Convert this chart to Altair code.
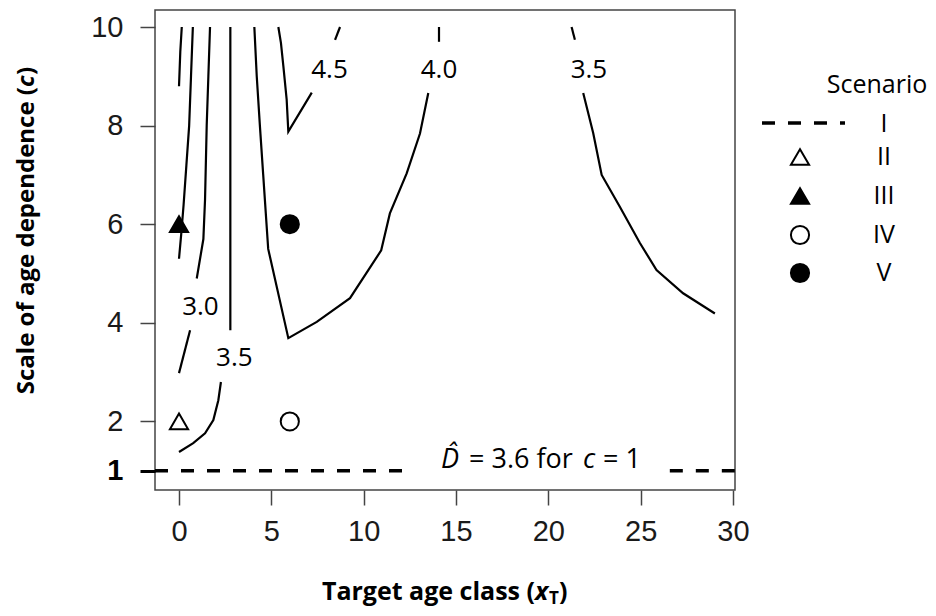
import altair as alt
import pandas as pd

# ---------------- data ----------------
x_ticks = [0, 5, 10, 15, 20, 25, 30]
y_ticks = [1, 2, 4, 6, 8, 10]

# contour pieces (x = target age class, y = scale of age dependence c)
c20_x = [0.15, 0.07, 0.0]
c20_y = [10.0, 9.5, 8.8]
c25_x = [0.75, 0.65, 0.55, 0.40, 0.25, 0.12, 0.0]
c25_y = [10.0, 9.0, 8.0, 7.2, 6.4, 5.8, 5.3]
c30_upper_x = [1.68, 1.59, 1.50, 1.41, 1.32, 0.96]
c30_upper_y = [10.0, 9.0, 8.0, 6.5, 5.7, 4.9]
c30_lower_x = [0.60, 0.0]
c30_lower_y = [3.85, 2.98]
c35_left_upper_x = [2.78, 2.78]
c35_left_upper_y = [10.0, 3.85]
c35_left_lower_x = [2.27, 2.13, 1.86, 1.41, 0.77, 0.0]
c35_left_lower_y = [2.80, 2.43, 2.03, 1.76, 1.56, 1.38]
c40_main_x = [4.08, 4.21, 4.38, 4.56, 4.65, 4.83, 5.92, 7.46, 9.26, 10.95, 11.42, 12.33, 13.05, 13.50]
c40_main_y = [10.0, 9.0, 8.0, 7.0, 6.5, 5.5, 3.69, 4.02, 4.50, 5.47, 6.22, 7.03, 7.84, 8.66]
c40_top_x = [14.08, 14.08]
c40_top_y = [9.70, 10.0]
c45_main_x = [5.38, 5.52, 5.65, 5.83, 5.92, 7.19]
c45_main_y = [10.0, 9.68, 9.21, 8.53, 7.88, 8.67]
c45_top_x = [8.45, 8.72]
c45_top_y = [9.74, 10.0]
c35_right_top_x = [21.26, 21.44]
c35_right_top_y = [10.0, 9.74]
c35_right_main_x = [21.89, 22.43, 22.89, 23.88, 24.96, 25.86, 27.30, 29.02]
c35_right_main_y = [8.66, 7.85, 7.0, 6.35, 5.62, 5.07, 4.60, 4.19]

# contour labels
cl_text = ["3.0", "3.5", "4.5", "4.0", "3.5"]
cl_x = [1.16, 3.0, 8.15, 14.08, 22.2]
cl_y = [4.32, 3.29, 9.12, 9.12, 9.12]

# scenarios
scenario = ["II", "III", "IV", "V"]
scen_x = [0, 0, 6, 6]
scen_y = [2, 6, 2, 6]
baseline_c = 1
baseline_D = 3.6
# dashed baseline (scenario I) pieces, interrupted by the annotation
base_x0 = [-1.3, 26.58]
base_x1 = [12.78, 30.11]

legend_names = ["I", "II", "III", "IV", "V"]

# ---------------- layout ----------------
X_DOMAIN = [-1.3, 30.11]
Y_DOMAIN = [0.61, 10.345]
W, H = 580, 480
OX, OY = 155, 10  # page position of the plot origin

pieces = [
    ("c20", c20_x, c20_y), ("c25", c25_x, c25_y),
    ("c30u", c30_upper_x, c30_upper_y), ("c30l", c30_lower_x, c30_lower_y),
    ("c35lu", c35_left_upper_x, c35_left_upper_y), ("c35ll", c35_left_lower_x, c35_left_lower_y),
    ("c40m", c40_main_x, c40_main_y), ("c40t", c40_top_x, c40_top_y),
    ("c45m", c45_main_x, c45_main_y), ("c45t", c45_top_x, c45_top_y),
    ("c35rt", c35_right_top_x, c35_right_top_y), ("c35rm", c35_right_main_x, c35_right_main_y),
]
rows = []
for name, xs_, ys_ in pieces:
    for i, (xv, yv) in enumerate(zip(xs_, ys_)):
        rows.append({"piece": name, "i": i, "x": xv, "y": yv})
contours = pd.DataFrame(rows)
labels_df = pd.DataFrame({"t": cl_text, "x": cl_x, "y": cl_y})
scen_df = pd.DataFrame({"scenario": scenario, "x": scen_x, "y": scen_y})
base_df = pd.DataFrame({"x": base_x0, "x2": base_x1, "y": [baseline_c] * 2})

xs = alt.Scale(domain=X_DOMAIN, nice=False, zero=False)
ys = alt.Scale(domain=Y_DOMAIN, nice=False, zero=False)

is1 = "datum.value == 1"
x_axis = alt.Axis(values=x_ticks, tickSize=15, tickWidth=1.5, tickColor="#444",
                  domain=False, grid=False, labelFont="Liberation Sans", labelFontSize=29,
                  labelColor="#1a1a1a", labelPadding=12, labelFlush=False,
                  labelOverlap=False, title=None)
y_axis = alt.Axis(values=y_ticks, tickSize=15,
                  tickWidth={"condition": {"test": is1, "value": 3}, "value": 1.5},
                  tickColor={"condition": {"test": is1, "value": "#000"}, "value": "#444"},
                  labelFontWeight={"condition": {"test": is1, "value": "bold"}, "value": "normal"},
                  labelColor={"condition": {"test": is1, "value": "#000"}, "value": "#1a1a1a"},
                  domain=False, grid=False, labelFont="Liberation Sans", labelFontSize=29,
                  labelPadding=17, labelFlush=False, labelOverlap=False, title=None)


def X(f):
    return alt.X(f, type="quantitative", scale=xs, axis=x_axis)


def Y(f):
    return alt.Y(f, type="quantitative", scale=ys, axis=y_axis)


layers = []
layers.append(alt.Chart(contours).mark_line(color="black", strokeWidth=2.2).encode(
    x=X("x"), y=Y("y"), detail="piece:N", order="i:Q"))
layers.append(alt.Chart(base_df).mark_rule(color="black", strokeWidth=3.5, strokeDash=[13, 13]).encode(
    x=X("x"), x2="x2:Q", y=Y("y")))
layers.append(alt.Chart(labels_df).mark_text(font="Open Sans", fontSize=26, color="black",
                                             align="center", baseline="middle").encode(
    x=X("x"), y=Y("y"), text="t:N"))
shape_scale = alt.Scale(domain=scenario, range=["triangle-up", "triangle-up", "circle", "circle"])
fill_scale = alt.Scale(domain=scenario, range=["white", "black", "white", "black"])
layers.append(alt.Chart(scen_df).mark_point(filled=True, stroke="black", strokeWidth=2, size=330, opacity=1).encode(
    x=X("x"), y=Y("y"),
    shape=alt.Shape("scenario:N", scale=shape_scale, legend=None),
    fill=alt.Fill("scenario:N", scale=fill_scale, legend=None)))

ONE = pd.DataFrame({"k": [0]})


def txt(text, px, py, size, weight="normal", style="normal", align="center",
        baseline="middle", angle=None, font="Open Sans"):
    props = dict(text=text, fontSize=size, fontWeight=weight, fontStyle=style,
                 align=align, baseline=baseline, font=font, color="black")
    if angle is not None:
        props["angle"] = angle
    return alt.Chart(ONE).mark_text(**props).encode(x=alt.value(px - OX), y=alt.value(py - OY))


# y axis title (rotated)
YT_X, YT_P = 27, 87
layers.append(txt("Scale of age dependence (", YT_X, YT_P, 24, weight="bold", align="right", angle=270))
layers.append(txt("c", YT_X, YT_P, 24, weight="bold", style="italic", align="left", angle=270))
layers.append(txt(")", YT_X, YT_P - 12, 24, weight="bold", align="left", angle=270))

# x axis title
XT_P, XT_B = 535, 600
layers.append(txt("Target age class (", XT_P, XT_B, 25, weight="bold", align="right", baseline="alphabetic"))
layers.append(txt("x", XT_P, XT_B, 25, weight="bold", style="italic", align="left", baseline="alphabetic"))
layers.append(txt("T", XT_P + 14, XT_B + 4, 17, weight="bold", align="left", baseline="alphabetic"))
layers.append(txt(")", XT_P + 24, XT_B, 25, weight="bold", align="left", baseline="alphabetic"))

# annotation for c = 1
AN_B = 468
layers.append(txt("D\u0302", 441, AN_B, 27, style="italic", align="left", baseline="alphabetic"))
layers.append(txt(f"= {baseline_D} for", 469, AN_B, 27, align="left", baseline="alphabetic"))
layers.append(txt("c", 583, AN_B, 27, style="italic", align="left", baseline="alphabetic"))
layers.append(txt(f"= {baseline_c}", 603, AN_B, 27, align="left", baseline="alphabetic"))

# legend
layers.append(txt("Scenario", 877, 85, 25))
leg_rows = [124, 157, 196, 235, 273]
SYM_X, LAB_X = 800, 884
for name, ry in zip(legend_names, leg_rows):
    layers.append(txt(name, LAB_X, ry, 25))
layers.append(alt.Chart(ONE).mark_rule(color="black", strokeWidth=3.5, strokeDash=[13, 13]).encode(
    x=alt.value(762 - OX), x2=alt.value(845 - OX), y=alt.value(leg_rows[0] - 1 - OY)))
for name, ry in zip(scenario, leg_rows[1:]):
    layers.append(alt.Chart(ONE).mark_point(filled=True, stroke="black", strokeWidth=2, size=330, opacity=1,
                                            shape=shape_scale.range[scenario.index(name)],
                                            fill=fill_scale.range[scenario.index(name)]).encode(
        x=alt.value(SYM_X - OX), y=alt.value(ry - OY)))

chart = alt.layer(*layers).properties(
    width=W, height=H,
    autosize=alt.AutoSizeParams(type="none"),
    padding={"left": OX - 8, "top": OY - 8, "right": 936 - 16 - (OX - 8) - W, "bottom": 600 - (OY - 8) - H},
).configure_view(stroke="#444", strokeWidth=1.5)

chart.save("out.html", embed_options={"renderer": "svg", "actions": False})
